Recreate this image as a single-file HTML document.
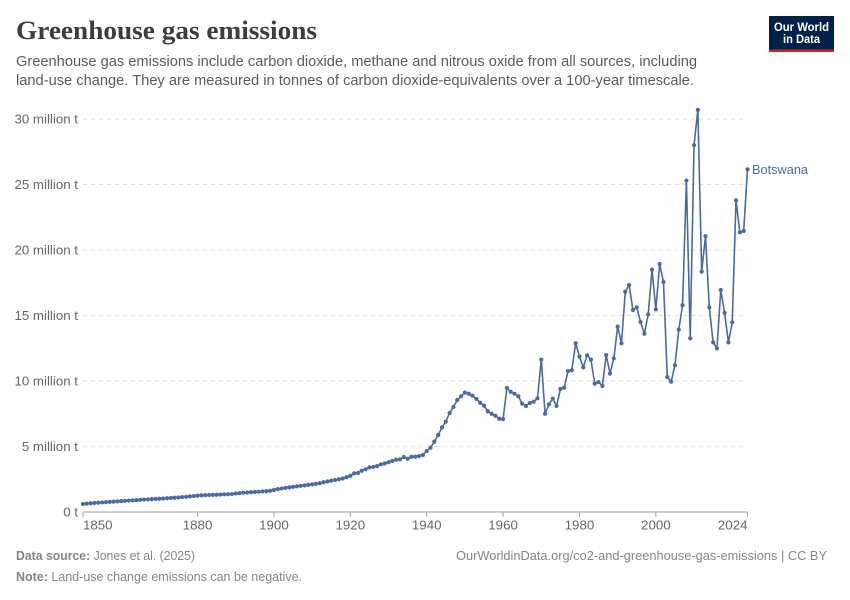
<!DOCTYPE html>
<html lang="en">
<head>
<meta charset="utf-8">
<title>Greenhouse gas emissions</title>
<style>
html,body{margin:0;padding:0;background:#fff;}
svg{display:block;font-family:"Liberation Sans",sans-serif;}
</style>
</head>
<body>
<svg id="chart" width="850" height="600" viewBox="0 0 850 600" xmlns="http://www.w3.org/2000/svg">
  <text x="16" y="39" font-family="'Liberation Serif',serif" font-weight="700" font-size="26" fill="#3d3d3d" textLength="301" lengthAdjust="spacingAndGlyphs">Greenhouse gas emissions</text>
  <text x="16" y="66" font-size="14.5" fill="#5b5b5b" textLength="681" lengthAdjust="spacingAndGlyphs">Greenhouse gas emissions include carbon dioxide, methane and nitrous oxide from all sources, including</text>
  <text x="16" y="85" font-size="14.5" fill="#5b5b5b" textLength="678" lengthAdjust="spacingAndGlyphs">land-use change. They are measured in tonnes of carbon dioxide-equivalents over a 100-year timescale.</text>

  <g>
    <rect x="769" y="16" width="65" height="36" fill="#002147"/>
    <rect x="769" y="49.5" width="65" height="2.5" fill="#ce261e"/>
    <text x="801.5" y="31" text-anchor="middle" font-size="11.5" font-weight="700" fill="#fff" textLength="55" lengthAdjust="spacingAndGlyphs">Our World</text>
    <text x="801.5" y="43" text-anchor="middle" font-size="11.5" font-weight="700" fill="#fff" textLength="37" lengthAdjust="spacingAndGlyphs">in Data</text>
  </g>

  <g id="grid"></g>
  <g id="yaxis"></g>
  <g id="xaxis"></g>
  <g id="series"></g>

  <text id="series-label" x="752" font-size="13" fill="#4c6a9c" textLength="56" lengthAdjust="spacingAndGlyphs">Botswana</text>

  <text x="16" y="560" font-size="13" fill="#858585" textLength="179" lengthAdjust="spacingAndGlyphs"><tspan font-weight="700">Data source:</tspan> Jones et al. (2025)</text>
  <text x="456" y="560" font-size="13" fill="#858585" textLength="371" lengthAdjust="spacingAndGlyphs">OurWorldinData.org/co2-and-greenhouse-gas-emissions | CC BY</text>
  <text x="16" y="581" font-size="13" fill="#858585" textLength="286" lengthAdjust="spacingAndGlyphs"><tspan font-weight="700">Note:</tspan> Land-use change emissions can be negative.</text>
</svg>
<script>
const firstYear = 1850;
const emissions = [
  0.61,0.64,0.67,0.69,0.71,0.73,0.75,0.77,0.79,0.81,
  0.83,0.85,0.87,0.89,0.91,0.93,0.95,0.96,0.98,1.00,
  1.01,1.03,1.05,1.07,1.09,1.11,1.14,1.16,1.19,1.22,
  1.25,1.27,1.29,1.30,1.31,1.32,1.33,1.35,1.36,1.37,
  1.41,1.44,1.47,1.49,1.51,1.53,1.55,1.57,1.59,1.62,
  1.68,1.75,1.79,1.84,1.88,1.92,1.96,2.00,2.03,2.07,
  2.11,2.15,2.20,2.27,2.33,2.39,2.44,2.50,2.56,2.65,
  2.77,2.95,2.98,3.15,3.26,3.41,3.44,3.50,3.64,3.70,
  3.80,3.90,3.99,4.02,4.20,4.07,4.22,4.22,4.27,4.35,
  4.66,4.91,5.37,5.88,6.46,6.90,7.56,8.02,8.55,8.83,
  9.11,9.03,8.88,8.63,8.34,8.12,7.69,7.50,7.35,7.12,
  7.10,9.47,9.18,9.03,8.83,8.27,8.09,8.32,8.42,8.68,
  11.63,7.50,8.22,8.65,8.09,9.39,9.49,10.76,10.82,12.88,
  11.86,11.04,11.96,11.63,9.80,9.92,9.62,11.98,10.56,11.73,
  14.15,12.88,16.82,17.33,15.42,15.62,14.50,13.61,15.09,18.50,
  15.47,18.93,17.56,10.30,9.95,11.20,13.92,15.78,25.30,13.26,
  28.00,30.70,18.35,21.05,15.62,12.95,12.49,16.95,15.20,12.95,
  14.48,23.79,21.35,21.45,26.16
];
const yTicks = [0,5,10,15,20,25,30];
const yTickLabels = ["0 t","5 million t","10 million t","15 million t","20 million t","25 million t","30 million t"];
const xTicks = [1850,1880,1900,1920,1940,1960,1980,2000,2024];

const NS = "http://www.w3.org/2000/svg";
const X0 = 83, X1 = 747.5, Y0 = 512, PX_PER_UNIT = 13.1;
const lastYear = firstYear + emissions.length - 1;
function xScale(year){ return X0 + (year - firstYear) * (X1 - X0) / (lastYear - firstYear); }
function yScale(v){ return Y0 - v * PX_PER_UNIT; }
function make(tag, attrs, parent){
  const el = document.createElementNS(NS, tag);
  for (const k in attrs) el.setAttribute(k, attrs[k]);
  parent.appendChild(el);
  return el;
}
const grid = document.getElementById("grid");
const yaxis = document.getElementById("yaxis");
const xaxis = document.getElementById("xaxis");
const series = document.getElementById("series");

yTicks.forEach(function(t, i){
  const y = yScale(t);
  if (t !== 0) {
    const g = make("line", {x1:X0, x2:X1, y1:y, y2:y, stroke:"#dddddd", "stroke-width":1, "stroke-dasharray":"4,4"}, grid);
    
    
  }
  const lab = make("text", {x:78, y:y+4.5, "text-anchor":"end", "font-size":13.3, fill:"#666666"}, yaxis);
  lab.textContent = yTickLabels[i];
  
  
});

const axisLine = make("line", {x1:X0, x2:X1, y1:Y0, y2:Y0, stroke:"#a1a1a1", "stroke-width":1}, xaxis);



xTicks.forEach(function(t, i){
  const x = xScale(t);
  const tick = make("line", {x1:x, x2:x, y1:Y0, y2:Y0+5, stroke:"#a1a1a1", "stroke-width":1}, xaxis);
  
  
  const anchor = i === 0 ? "start" : (i === xTicks.length - 1 ? "end" : "middle");
  const lab = make("text", {x:x, y:Y0+17.5, "text-anchor":anchor, "font-size":13.3, fill:"#666666"}, xaxis);
  lab.textContent = t;
  
  
});

const pts = emissions.map(function(v, i){
  return xScale(firstYear + i).toFixed(2) + "," + yScale(v).toFixed(2);
}).join(" ");
const line = make("polyline", {points:pts, fill:"none", stroke:"#4c6a9c", "stroke-width":1.6, "stroke-linejoin":"round"}, series);



emissions.forEach(function(v, i){
  const c = make("circle", {cx:xScale(firstYear + i), cy:yScale(v), r:2.1, fill:"#4c6a9c"}, series);
  
  
});

document.getElementById("series-label").setAttribute("y", yScale(emissions[emissions.length - 1]) + 4.5);
</script>
</body>
</html>
